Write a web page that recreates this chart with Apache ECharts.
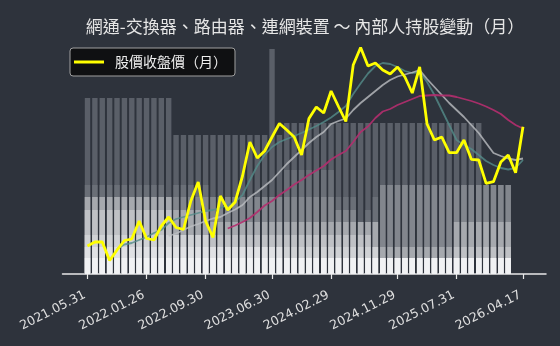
<!DOCTYPE html>
<html>
<head>
<meta charset="utf-8">
<script src="https://cdn.jsdelivr.net/npm/echarts@6/dist/echarts.min.js"></script>
<style>
html,body{margin:0;padding:0;background:#2e333c;}
#chart{width:560px;height:346px;}
</style>
</head>
<body>
<div id="chart"></div>
<script>
// Months (one bar / point per month)
var months = ['2021.05','2021.06','2021.07','2021.08','2021.09','2021.10','2021.11','2021.12',
 '2022.01','2022.02','2022.03','2022.04','2022.05','2022.06','2022.07','2022.08','2022.09','2022.10','2022.11','2022.12',
 '2023.01','2023.02','2023.03','2023.04','2023.05','2023.06','2023.07','2023.08','2023.09','2023.10','2023.11','2023.12',
 '2024.01','2024.02','2024.03','2024.04','2024.05','2024.06','2024.07','2024.08','2024.09','2024.10','2024.11','2024.12',
 '2025.01','2025.02','2025.03','2025.04','2025.05','2025.06','2025.07','2025.08','2025.09','2025.10','2025.11','2025.12',
 '2026.01','2026.02','2026.03','2026.04'];

// Tick labels shown on the axis and the month index they sit on
var tickLabels = ['2021.05.31','2022.01.26','2022.09.30','2023.06.30','2024.02.29','2024.11.29','2025.07.31','2026.04.17'];
var tickIndex = [0, 8, 16, 25, 33, 42, 50, 59];

// Insider holding levels (overlapping bars, level 1 = total, darkest)
var level1 = [176,176,176,176,176,176,176,176,176,176,176,176,
 139,139,139,139,139,139,139,139,139,139,139,139,139,225,139,
 151,151,151,151,151,151,151,151,151,151,151,151,151,151,151,151,151,151,151,151,151,151,151,151,151,151,151];
var level2 = [89,89,89,89,89,89,89,89,89,89,89,77,
 89,89,89,89,89,77,77,77,77,77,77,77,77,77,77,
 104,104,104,104,104,104,104,77,77,77,52,64,77,
 89,89,89,89,89,89,89,89,89,89,89,89,89,89,89,89,89,89];
var level3 = [77,77,77,77,77,77,77,77,77,77,77,77,
 77,77,77,77,77,77,77,77,77,77,77,77,77,77,77,
 77,77,77,77,77,77,77,64,64,64,52,52,52,
 89,89,89,89,89,89,89,89,89,89,89,89,89,89,89,89,89,89];
var level4 = [77,77,77,77,77,77,77,77,77,77,77,77,
 64,64,64,64,64,52,52,52,52,52,52,52,52,52,52,
 52,52,52,52,52,52,52,52,52,52,52,52,52,
 27,27,27,27,27,27,27,27,27,27,52,52,52,52,52,52,52,52];
var level5 = [64,64,64,64,64,64,64,64,64,64,64,64,
 39,39,39,39,39,39,39,39,39,39,39,39,39,39,39,
 39,39,39,39,39,39,39,39,39,39,39,39,27,
 16,16,16,16,16,16,16,16,16,16,27,27,27,27,27,27,27,27];
var level6 = [39,39,39,39,39,39,39,39,39,39,39,39,
 39,39,39,39,39,27,27,27,27,27,27,27,27,27,27,
 27,27,27,27,27,27,27,27,27,27,27,27,27,
 16,16,16,16,16,16,16,16,16,16,16,16,16,16,16,16,16,16];
var level7 = [27,27,27,27,27,27,27,27,27,27,27,27,
 27,27,27,27,27,27,27,27,27,27,27,27,27,27,27,
 16,16,16,16,16,16,16,16,16,16,16,16,16,
 16,16,16,16,16,16,16,16,16,16,16,16,16,16,16,16,16,16];
var level8 = [16,16,16,16,16,16,16,16,16,16,16,16,
 16,16,16,16,16,16,16,16,16,16,16,16,16,16,16,
 16,16,16,16,16,16,16,16,16,16,16,16,16,
 16,16,16,16,16,16,16,16,16,16,16,16,16,16,16,16,16,16];

// Monthly closing price (relative scale)
var price = [28,32,32,13.5,24,33.5,35,53,35.5,34,48,57,46.5,44.5,73,92,53,36.5,78,64,
 72,98,132,116,123,137,150.5,144,137,119,155.5,167,161,183,167.5,152.5,209,226.5,208,211,
 204,200,207,197,181,207,150,134,137,121.3,121.3,134,114.7,114,90.7,92.3,112,119,101.3,147.3];

// Moving-average lines and the month index where each begins
var maShortStart = 4;
var maShort = [25,29.5,31,34,37,41,44,51,55,57,59,61,63,64,66,69,72,79,94,108,119,127,132,135,138,141,
 144.5,148,152,156.5,162,168,180,190.5,200.5,208,211,210,207,203,201,202,192,179,164,149,134,129,125,
 119,113,109,106,104.5,106,114];
var maMidStart = 11;
var maMid = [38,40.5,44,47.5,50,53,55.5,57,61,64.5,69,77,82,88,94,102,110,117,124,131,137,142,150,153,
 155.5,164,171,177,183,189,194,197.5,199.5,201.5,204,195,187,179,171,164,157,149,141,131,121,118,115.5,114,115.5];
var maLongStart = 19;
var maLong = [45.5,48.5,52,56,62,68.5,73,79,84,89.5,94,99,103.5,108,114.5,119,123,132,142,147.5,156,
 162.5,165,169,172,175,178,178.5,179,178.5,178.5,177,175,173,170.5,167.5,164,160,154,149,145.5];

var levelColors = ['#5a5f68','#6a6f77','#82868d','#a6a9ae','#bfc1c5','#d0d2d5','#e0e1e4','#f1f2f4'];

function pts(arr, start) { return arr.map(function (v, i) { return [i + start, v]; }); }

var levels = [level1, level2, level3, level4, level5, level6, level7, level8];
var series = levels.map(function (arr, k) {
  return {
    type: 'bar', name: 'L' + (k + 1), data: pts(arr, 0),
    barWidth: 5.4, barGap: '-100%', silent: true, z: 1,
    itemStyle: { color: levelColors[k] }
  };
});
series.push({ type: 'line', name: 'MA1', data: pts(maShort, maShortStart), showSymbol: false, z: 3,
  lineStyle: { color: 'rgba(84,140,138,0.8)', width: 1.8 } });
series.push({ type: 'line', name: 'MA2', data: pts(maMid, maMidStart), showSymbol: false, z: 3,
  lineStyle: { color: 'rgba(188,190,194,0.8)', width: 1.8 } });
series.push({ type: 'line', name: 'MA3', data: pts(maLong, maLongStart), showSymbol: false, z: 3,
  lineStyle: { color: 'rgba(180,45,110,0.9)', width: 1.8 } });
series.push({ type: 'line', name: '股價收盤價（月）', data: pts(price, 0), showSymbol: false, z: 5,
  lineStyle: { color: '#ffff00', width: 2.8 }, itemStyle: { color: '#ffff00' } });

var chart = echarts.init(document.getElementById('chart'), null, { renderer: 'canvas' });
chart.setOption({
  animation: false,
  backgroundColor: '#2e333c',
  title: {
    text: '網通-交換器、路由器、連網裝置 ～ 內部人持股變動（月）',
    left: 300, top: 13, textAlign: 'center',
    textStyle: { color: '#e6e6e6', fontSize: 17, fontWeight: 'normal', fontFamily: 'Noto Sans CJK TC' }
  },
  legend: {
    data: [{ name: '股價收盤價（月）', icon: 'rect' }],
    left: 70, top: 48, itemWidth: 30, itemHeight: 3,
    backgroundColor: '#0f1012', borderColor: '#a0a0a0', borderWidth: 1, borderRadius: 3,
    padding: [7, 8, 7, 4],
    textStyle: { color: '#eeeeee', fontSize: 14, fontFamily: 'Noto Sans CJK TC', padding: [0, 0, 0, 6] }
  },
  grid: { left: 62.5, right: 14, top: 40, bottom: 72 },
  xAxis: {
    type: 'value', min: -3.387, max: 62.116,
    splitLine: { show: false },
    axisLine: { show: true, lineStyle: { color: '#e8e8e8', width: 1.5 } },
    axisTick: { show: true, customValues: tickIndex, length: 5, lineStyle: { color: '#e8e8e8', width: 1.2 } },
    axisLabel: {
      customValues: tickIndex, rotate: 27, margin: 19, fontSize: 12.5, color: '#e0e0e0',
      fontFamily: 'DejaVu Sans', padding: [0, 3, 0, 0],
      formatter: function (v) { var i = tickIndex.indexOf(Math.round(v)); return i >= 0 ? tickLabels[i] : ''; }
    }
  },
  yAxis: { type: 'value', min: 0, max: 234, show: false, splitLine: { show: false } },
  series: series
});
</script>
</body>
</html>
